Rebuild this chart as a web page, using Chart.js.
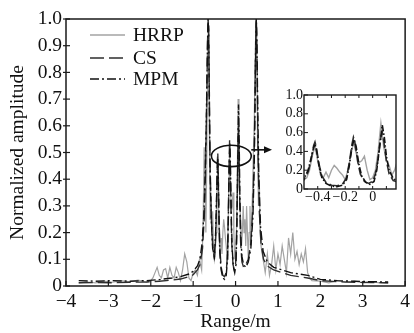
<!DOCTYPE html>
<html><head><meta charset="utf-8">
<script src="https://cdn.jsdelivr.net/npm/chart.js@4.4.1/dist/chart.umd.min.js"></script>
<style>
html,body{margin:0;padding:0;background:#fff;}
#wrap{position:relative;width:414px;height:333px;overflow:hidden;}
#main{position:absolute;left:0;top:0;}
#inset{position:absolute;left:276px;top:83px;}
</style></head><body>
<div id="wrap"><canvas id="main" width="414" height="333"></canvas><canvas id="inset" width="128" height="122"></canvas></div>
<script>
// ---- data ----
const seriesNames = ["HRRP", "CS", "MPM"];
const xTicks = [-4, -3, -2, -1, 0, 1, 2, 3, 4];
const yTicks = [0, 0.1, 0.2, 0.3, 0.4, 0.5, 0.6, 0.7, 0.8, 0.9, 1.0];
const insetXTicks = [-0.4, -0.2, 0];
const insetYTicks = [0, 0.2, 0.4, 0.6, 0.8, 1.0];

const hrrpX = [-3.7,-3.5,-3.3,-3.1,-2.9,-2.7,-2.5,-2.3,-2.1,-2.0,
 -1.95,-1.9,-1.85,-1.8,-1.75,-1.7,-1.65,-1.6,-1.55,-1.5,-1.45,-1.4,-1.35,-1.3,-1.25,-1.2,-1.15,-1.1,-1.05,-1.0,-0.95,-0.9,-0.85,-0.8,
 -0.78,-0.76,-0.74,-0.72,-0.70,-0.68,-0.66,-0.64,-0.62,-0.60,-0.58,-0.56,-0.54,-0.52,-0.50,-0.48,-0.46,-0.44,-0.42,-0.40,-0.38,-0.36,-0.34,-0.32,-0.30,-0.28,-0.26,-0.24,-0.22,-0.20,-0.18,-0.16,-0.14,-0.12,-0.10,-0.08,-0.06,-0.04,-0.02,0.00,0.02,0.04,0.06,0.08,0.10,0.12,0.14,0.16,0.18,0.20,0.22,0.24,0.26,0.28,0.30,0.32,0.34,0.36,0.38,0.40,0.42,0.44,0.46,0.48,0.50,0.52,0.54,0.56,0.58,0.60,
 0.65,0.7,0.75,0.8,0.85,0.9,0.95,1.0,1.05,1.1,1.15,1.2,1.25,1.3,1.35,1.4,1.45,1.5,1.55,1.6,1.65,1.7,1.75,1.8,
 2.0,2.2,2.4,2.6,2.8,3.0,3.2,3.4,3.6];
const hrrpY = [0.012,0.015,0.012,0.018,0.014,0.02,0.016,0.022,0.015,0.02,
 0.03,0.05,0.07,0.04,0.03,0.06,0.065,0.03,0.07,0.04,0.03,0.07,0.05,0.02,0.06,0.12,0.09,0.03,0.02,0.05,0.06,0.04,0.1,0.06,
 0.15,0.3,0.52,0.35,0.2,0.45,0.85,1.0,0.6,0.25,0.3,0.2,0.28,0.15,0.1,0.12,0.2,0.35,0.45,0.3,0.15,0.12,0.18,0.12,0.2,0.25,0.22,0.18,0.15,0.1,0.2,0.35,0.5,0.38,0.28,0.3,0.35,0.2,0.1,0.12,0.2,0.4,0.7,0.45,0.3,0.25,0.15,0.2,0.3,0.2,0.25,0.15,0.3,0.2,0.1,0.2,0.3,0.15,0.25,0.35,0.5,0.6,0.85,1.0,0.95,0.5,0.3,0.4,0.2,0.15,
 0.1,0.05,0.12,0.04,0.08,0.15,0.06,0.12,0.08,0.15,0.1,0.05,0.18,0.12,0.2,0.1,0.13,0.08,0.12,0.09,0.14,0.05,0.03,0.02,
 0.018,0.012,0.02,0.014,0.018,0.012,0.016,0.012,0.01];

const csX = [-3.7,-3.3,-2.9,-2.5,-2.1,-1.8,-1.5,-1.3,-1.1,-1.0,-0.9,-0.84,-0.78,-0.74,-0.71,-0.68,-0.66,-0.645,-0.635,-0.62,-0.6,-0.57,-0.54,-0.5,-0.47,-0.45,-0.43,-0.42,-0.41,-0.39,-0.37,-0.34,-0.3,-0.26,-0.22,-0.19,-0.17,-0.15,-0.14,-0.13,-0.11,-0.09,-0.06,-0.03,0.0,0.02,0.04,0.06,0.07,0.08,0.1,0.12,0.15,0.19,0.24,0.3,0.36,0.41,0.44,0.46,0.475,0.485,0.495,0.51,0.53,0.56,0.6,0.66,0.75,0.9,1.1,1.3,1.5,1.7,2.0,2.4,2.8,3.2,3.6];
const csY = [0.012,0.013,0.012,0.014,0.015,0.018,0.022,0.026,0.035,0.042,0.06,0.08,0.14,0.25,0.42,0.7,0.92,1.0,0.98,0.75,0.45,0.25,0.15,0.1,0.18,0.3,0.46,0.5,0.44,0.26,0.14,0.07,0.04,0.035,0.05,0.12,0.28,0.48,0.55,0.5,0.3,0.16,0.08,0.06,0.08,0.16,0.32,0.55,0.6,0.52,0.3,0.16,0.09,0.07,0.08,0.1,0.16,0.3,0.5,0.72,0.93,1.0,0.97,0.8,0.5,0.28,0.16,0.1,0.075,0.06,0.05,0.04,0.035,0.03,0.02,0.016,0.014,0.013,0.012];

const mpmX = [-3.7,-3.3,-2.9,-2.5,-2.1,-1.8,-1.5,-1.3,-1.1,-1.0,-0.9,-0.84,-0.79,-0.75,-0.72,-0.69,-0.665,-0.65,-0.635,-0.62,-0.6,-0.57,-0.54,-0.5,-0.47,-0.45,-0.43,-0.42,-0.41,-0.39,-0.37,-0.34,-0.3,-0.26,-0.22,-0.19,-0.17,-0.15,-0.135,-0.12,-0.1,-0.08,-0.05,-0.02,0.01,0.03,0.05,0.07,0.085,0.1,0.12,0.15,0.19,0.24,0.3,0.36,0.41,0.44,0.46,0.475,0.49,0.505,0.52,0.55,0.59,0.65,0.75,0.9,1.1,1.3,1.5,1.7,2.0,2.4,2.8,3.2,3.6];
const mpmY = [0.02,0.018,0.02,0.018,0.02,0.024,0.03,0.035,0.045,0.055,0.075,0.1,0.16,0.26,0.4,0.62,0.88,1.0,0.96,0.7,0.42,0.24,0.14,0.11,0.2,0.32,0.44,0.48,0.42,0.24,0.12,0.06,0.03,0.025,0.04,0.1,0.25,0.45,0.53,0.45,0.26,0.14,0.07,0.05,0.08,0.2,0.45,0.68,0.55,0.35,0.2,0.11,0.08,0.07,0.09,0.14,0.26,0.45,0.68,0.9,1.0,0.9,0.7,0.4,0.22,0.13,0.09,0.07,0.06,0.05,0.045,0.04,0.025,0.02,0.018,0.016,0.015];

// ---- helpers ----
const FONT = "'Liberation Serif','Times New Roman',serif";
const pts = (xs, ys) => xs.map((x, i) => ({x: x, y: ys[i]}));
const minus = v => (v < 0 ? '\u2212' + String(Math.abs(+v.toFixed(1))) : String(+v.toFixed(1)));
const styles = [
  {color: '#a3a3a3', width: 1.2, dash: []},
  {color: '#2e2e2e', width: 1.4, dash: [14, 5]},
  {color: '#111111', width: 1.4, dash: [9, 3, 2, 3]}
];
function makeDatasets() {
  const d = [pts(hrrpX, hrrpY), pts(csX, csY), pts(mpmX, mpmY)];
  return d.map((data, i) => ({
    label: seriesNames[i], data: data, showLine: true, pointRadius: 0, tension: 0,
    borderColor: styles[i].color, borderWidth: styles[i].width, borderDash: styles[i].dash,
    order: 3 - i, fill: false
  }));
}

const mainDeco = {
  id: 'mainDeco',
  afterDraw(chart) {
    const {ctx, chartArea: a, scales: {x, y}} = chart;
    ctx.save();
    ctx.strokeStyle = '#1a1a1a'; ctx.lineWidth = 1.5; ctx.setLineDash([]);
    ctx.strokeRect(a.left, a.top, a.right - a.left, a.bottom - a.top);
    ctx.lineWidth = 1.2;
    xTicks.forEach(v => { const px = x.getPixelForValue(v); ctx.beginPath(); ctx.moveTo(px, a.bottom); ctx.lineTo(px, a.bottom - 5); ctx.stroke(); });
    yTicks.forEach(v => { const py = y.getPixelForValue(v); ctx.beginPath(); ctx.moveTo(a.left - 3, py); ctx.lineTo(a.left + 4, py); ctx.stroke(); });
    // legend
    ctx.font = '19.5px ' + FONT; ctx.textBaseline = 'middle'; ctx.fillStyle = '#111';
    const ly = [35, 58, 79];
    seriesNames.forEach((n, i) => {
      ctx.strokeStyle = styles[i].color; ctx.lineWidth = 1.6; ctx.setLineDash(styles[i].dash);
      ctx.beginPath(); ctx.moveTo(90, ly[i]); ctx.lineTo(125, ly[i]); ctx.stroke();
      ctx.fillText(n, 133, ly[i] + 1);
    });
    ctx.setLineDash([]);
    // ellipse around the zoomed region
    const cx = x.getPixelForValue(-0.1), cy = y.getPixelForValue(0.487);
    const rx = x.getPixelForValue(-0.1 + 0.47) - cx, ry = cy - y.getPixelForValue(0.487 + 0.04);
    ctx.strokeStyle = '#111'; ctx.lineWidth = 1.6;
    ctx.beginPath(); ctx.ellipse(cx, cy, rx, ry, 0, 0, Math.PI * 2); ctx.stroke();
    // arrow to inset
    const ax0 = cx + rx, ay = y.getPixelForValue(0.51), ax1 = x.getPixelForValue(0.86);
    ctx.beginPath(); ctx.moveTo(ax0, ay); ctx.lineTo(ax1 - 6, ay); ctx.stroke();
    ctx.fillStyle = '#111';
    ctx.beginPath(); ctx.moveTo(ax1, ay); ctx.lineTo(ax1 - 8, ay - 3.5); ctx.lineTo(ax1 - 8, ay + 3.5); ctx.closePath(); ctx.fill();
    ctx.restore();
  }
};

new Chart(document.getElementById('main'), {
  type: 'scatter',
  data: {datasets: makeDatasets()},
  options: {
    responsive: false, animation: false, devicePixelRatio: 1,
    layout: {padding: {top: 19, right: 8, left: 0, bottom: 0}},
    plugins: {legend: {display: false}, tooltip: {enabled: false}},
    scales: {
      x: {
        type: 'linear', min: -4, max: 4,
        afterFit: s => { s.height = 47; },
        afterBuildTicks: s => { s.ticks = xTicks.map(v => ({value: v})); },
        grid: {display: false, drawTicks: false},
        border: {display: false},
        ticks: {padding: 4, color: '#111', font: {family: FONT, size: 19.5}, callback: v => minus(v), maxRotation: 0, autoSkip: false},
        title: {display: true, text: 'Range/m', color: '#111', font: {family: FONT, size: 19.5}, padding: {top: 0, bottom: -1}}
      },
      y: {
        type: 'linear', min: 0, max: 1,
        afterFit: s => { s.width = 66; },
        afterBuildTicks: s => { s.ticks = yTicks.map(v => ({value: v})); },
        grid: {display: false, drawTicks: false},
        border: {display: false},
        ticks: {padding: 4, color: '#111', font: {family: FONT, size: 19.5}, callback: v => (v === 0 ? '0' : v.toFixed(1)), autoSkip: false},
        title: {display: true, text: 'Normalized amplitude', color: '#111', font: {family: FONT, size: 19.5}, padding: {top: 6, bottom: 0}}
      }
    }
  },
  plugins: [mainDeco]
});

const insetDeco = {
  id: 'insetDeco',
  beforeDraw(chart) {
    const {ctx, width, height} = chart;
    ctx.save(); ctx.fillStyle = '#fff'; ctx.fillRect(0, 0, width, height); ctx.restore();
  },
  afterDraw(chart) {
    const {ctx, chartArea: a, scales: {x, y}} = chart;
    ctx.save();
    ctx.strokeStyle = '#1a1a1a'; ctx.lineWidth = 1.4; ctx.setLineDash([]);
    ctx.strokeRect(a.left, a.top, a.right - a.left, a.bottom - a.top);
    ctx.lineWidth = 1;
    for (let v = -0.5; v <= 0.17; v += 0.1) {
      const px = x.getPixelForValue(v);
      if (px <= a.left + 1 || px >= a.right - 1) continue;
      ctx.beginPath(); ctx.moveTo(px, a.bottom); ctx.lineTo(px, a.bottom - 3); ctx.stroke();
      ctx.beginPath(); ctx.moveTo(px, a.top); ctx.lineTo(px, a.top + 3); ctx.stroke();
    }
    insetYTicks.forEach(v => { const py = y.getPixelForValue(v); ctx.beginPath(); ctx.moveTo(a.left, py); ctx.lineTo(a.left + 4, py); ctx.stroke(); });
    ctx.restore();
  }
};

new Chart(document.getElementById('inset'), {
  type: 'scatter',
  data: {datasets: makeDatasets().map(d => Object.assign(d, {borderWidth: d.borderWidth + 0.2, borderDash: d.borderDash.map(v => v * 0.7)}))},
  options: {
    responsive: false, animation: false, devicePixelRatio: 1,
    layout: {padding: {top: 12, right: 8, left: 0, bottom: 0}},
    plugins: {legend: {display: false}, tooltip: {enabled: false}},
    scales: {
      x: {
        type: 'linear', min: -0.5, max: 0.17,
        afterFit: s => { s.height = 16; },
        afterBuildTicks: s => { s.ticks = insetXTicks.map(v => ({value: v})); },
        grid: {display: false, drawTicks: false}, border: {display: false},
        ticks: {padding: 0, color: '#111', font: {family: FONT, size: 14}, callback: v => minus(v), maxRotation: 0, autoSkip: false}
      },
      y: {
        type: 'linear', min: 0, max: 1,
        afterFit: s => { s.width = 28; },
        afterBuildTicks: s => { s.ticks = insetYTicks.map(v => ({value: v})); },
        grid: {display: false, drawTicks: false}, border: {display: false},
        ticks: {padding: 1, color: '#111', font: {family: FONT, size: 14}, callback: v => (v === 0 ? '0' : v.toFixed(1)), autoSkip: false}
      }
    }
  },
  plugins: [insetDeco]
});
</script>
</body></html>
